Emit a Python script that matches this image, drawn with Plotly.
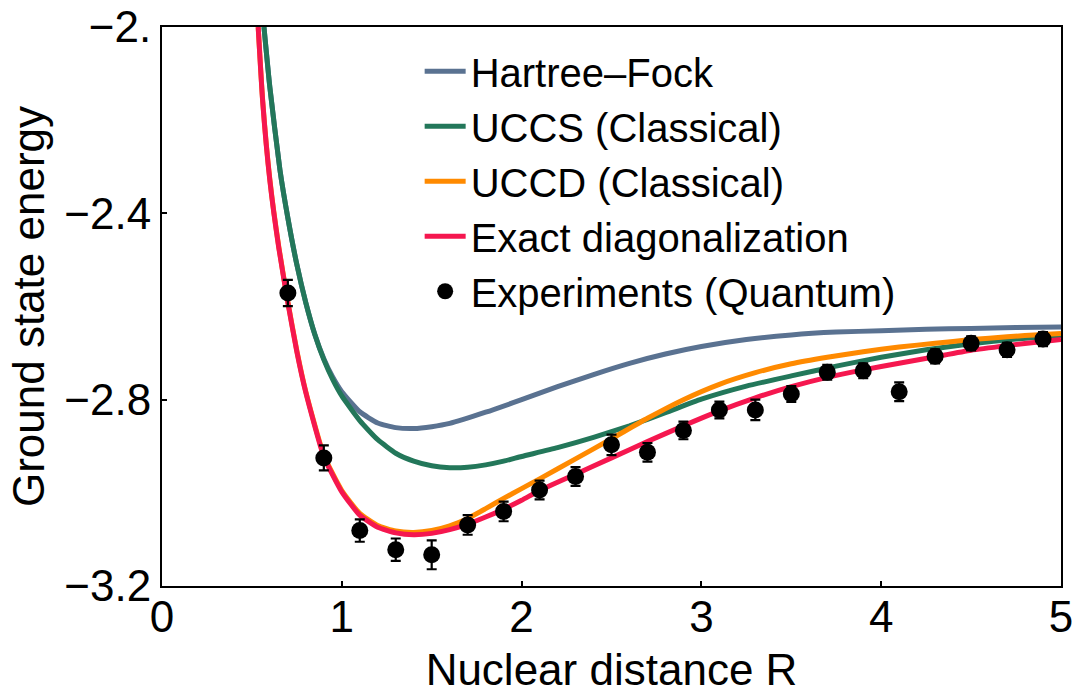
import plotly.graph_objects as go

# ---------------- data ----------------
hf_R = [0.567, 0.60, 0.656, 0.70, 0.75, 0.80, 0.85, 0.90, 0.95, 1.00, 1.10, 1.20, 1.30, 1.40,
        1.50, 1.60, 1.80, 2.00, 2.20, 2.40, 2.60, 2.80, 3.00, 3.25, 3.50, 3.75, 4.00, 4.25,
        4.50, 4.75, 5.00]
hf_E = [-2.0, -2.13, -2.307, -2.41, -2.51, -2.592, -2.66, -2.712, -2.752, -2.783, -2.826,
        -2.850, -2.860, -2.862, -2.858, -2.851, -2.827, -2.800, -2.772, -2.746, -2.722, -2.702,
        -2.686, -2.671, -2.661, -2.655, -2.652, -2.649, -2.647, -2.645, -2.644]

uccs_R = [0.567, 0.60, 0.656, 0.70, 0.75, 0.80, 0.85, 0.90, 0.95, 1.00, 1.10, 1.20, 1.30, 1.40,
          1.50, 1.60, 1.70, 1.80, 1.90, 2.00, 2.20, 2.40, 2.60, 2.80, 3.00, 3.25, 3.50, 3.75,
          4.00, 4.25, 4.50, 4.75, 5.00]
uccs_E = [-2.0, -2.13, -2.307, -2.41, -2.51, -2.592, -2.66, -2.714, -2.757, -2.792, -2.845,
          -2.886, -2.915, -2.932, -2.942, -2.946, -2.945, -2.940, -2.932, -2.922, -2.903, -2.881,
          -2.856, -2.828, -2.799, -2.771, -2.749, -2.728, -2.709, -2.693, -2.680, -2.670, -2.662]

uccd_R = [0.535, 0.56, 0.60, 0.65, 0.70, 0.75, 0.80, 0.90, 1.00, 1.10, 1.20, 1.30, 1.40, 1.50,
          1.60, 1.70, 1.80, 1.90, 2.00, 2.10, 2.30, 2.50, 2.70, 2.90, 3.10, 3.30, 3.50, 3.70,
          3.90, 4.10, 4.30, 4.50, 4.70, 4.90, 5.00]
uccd_E = [-2.0, -2.158, -2.328, -2.473, -2.590, -2.695, -2.783, -2.919, -2.995, -3.044, -3.070,
          -3.082, -3.085, -3.081, -3.071, -3.055, -3.034, -3.012, -2.991, -2.970, -2.927, -2.884,
          -2.840, -2.800, -2.767, -2.742, -2.723, -2.709, -2.697, -2.687, -2.679, -2.671, -2.665,
          -2.660, -2.658]

ed_R = [0.535, 0.56, 0.60, 0.65, 0.70, 0.75, 0.80, 0.90, 1.00, 1.10, 1.20, 1.30, 1.40, 1.50,
        1.60, 1.70, 1.80, 1.90, 2.00, 2.10, 2.30, 2.50, 2.70, 2.90, 3.10, 3.30, 3.50, 3.70,
        3.90, 4.10, 4.30, 4.50, 4.70, 4.90, 5.00]
ed_E = [-2.0, -2.16, -2.33, -2.475, -2.592, -2.697, -2.785, -2.922, -2.998, -3.048, -3.074,
        -3.086, -3.090, -3.087, -3.079, -3.067, -3.052, -3.035, -3.016, -2.995, -2.960, -2.925,
        -2.890, -2.856, -2.824, -2.796, -2.772, -2.752, -2.736, -2.722, -2.708, -2.694, -2.684,
        -2.675, -2.671]

exp_R = [0.7, 0.9, 1.1, 1.3, 1.5, 1.7, 1.9, 2.1, 2.3, 2.5, 2.7, 2.9, 3.1, 3.3, 3.5, 3.7, 3.9,
         4.1, 4.3, 4.5, 4.7, 4.9]
exp_E = [-2.571, -2.925, -3.081, -3.122, -3.133, -3.069, -3.040, -2.994, -2.965, -2.897, -2.913,
         -2.866, -2.822, -2.822, -2.788, -2.741, -2.738, -2.783, -2.707, -2.679, -2.693, -2.670]
exp_err = [0.028, 0.027, 0.024, 0.024, 0.031, 0.021, 0.021, 0.020, 0.020, 0.022, 0.020, 0.019,
           0.018, 0.022, 0.017, 0.016, 0.016, 0.020, 0.015, 0.015, 0.015, 0.015]

x_ticks = [0, 1, 2, 3, 4, 5]
y_ticks = [-2.0, -2.4, -2.8, -3.2]
y_ticktext = ["−2.", "−2.4", "−2.8", "−3.2"]

names = ["Hartree\u2013Fock", "UCCS (Classical)", "UCCD (Classical)",
         "Exact diagonalization", "Experiments (Quantum)"]
colors = ["#5a7291", "#23775a", "#ff8a00", "#f5174f"]

FONT = "Liberation Sans, Arial, Helvetica, sans-serif"

fig = go.Figure()
for R, E, name, col in [(hf_R, hf_E, names[0], colors[0]),
                        (uccs_R, uccs_E, names[1], colors[1]),
                        (uccd_R, uccd_E, names[2], colors[2]),
                        (ed_R, ed_E, names[3], colors[3])]:
    fig.add_trace(go.Scatter(x=R, y=E, mode="lines", name=name, legendgroup=name,
                             line=dict(color=col, width=5, shape="spline", smoothing=0.5)))

fig.add_trace(go.Scatter(
    x=exp_R, y=exp_E, mode="markers", name=names[4], legendgroup=names[4],
    marker=dict(color="black", size=17),
    error_y=dict(type="data", array=exp_err, visible=True, color="black",
                 thickness=2.2, width=5)))

axis_common = dict(showline=True, linecolor="black", linewidth=2, mirror=True,
                   ticks="inside", ticklen=5, tickwidth=1.5, tickcolor="black",
                   showgrid=False, zeroline=False, automargin=False,
                   tickfont=dict(size=44, family=FONT, color="black"))

fig.update_layout(
    template="none",
    width=1079, height=694,
    margin=dict(l=162, r=18, t=27, b=108),
    paper_bgcolor="white", plot_bgcolor="white",
    font=dict(family=FONT, color="black", size=40),
    showlegend=True,
    legend=dict(x=0.2866, y=0.979, xanchor="left", yanchor="top",
                bgcolor="rgba(0,0,0,0)", borderwidth=0,
                font=dict(size=40, family=FONT, color="black"),
                tracegroupgap=0, itemwidth=41),
    xaxis=dict(range=[0, 5], tickvals=x_ticks, ticktext=[str(v) for v in x_ticks],
               ticklabelstandoff=-9,
               title=dict(text="Nuclear distance R", font=dict(size=44, family=FONT),
                          standoff=28),
               **axis_common),
    yaxis=dict(range=[-3.2, -2.0], tickvals=y_ticks, ticktext=y_ticktext,
               title=dict(text="Ground state energy", font=dict(size=44, family=FONT),
                          standoff=6),
               **axis_common),
)

fig.write_html("out.html")
